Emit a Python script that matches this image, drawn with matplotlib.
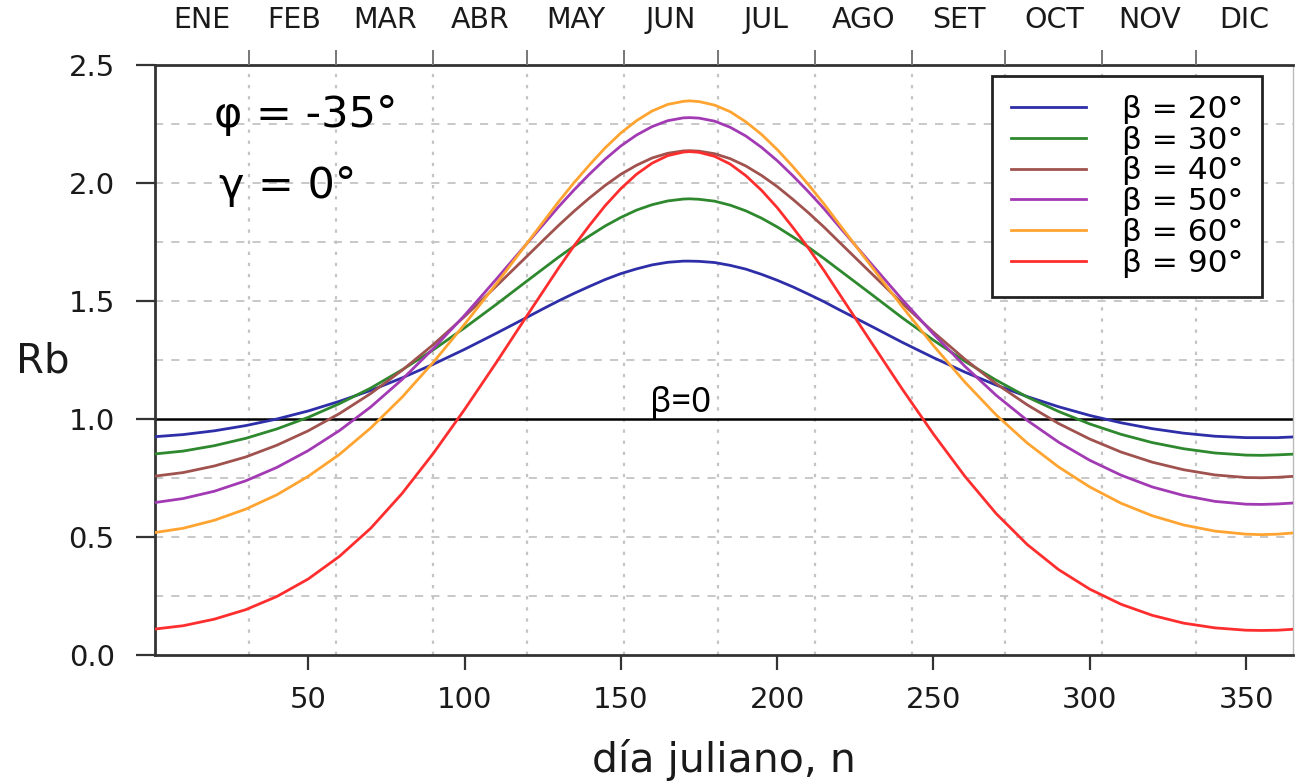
import matplotlib as mpl
mpl.use('Agg')
import matplotlib.pyplot as plt
from matplotlib.ticker import FixedLocator, FormatStrFormatter

plt.rcParams['font.family'] = ['DejaVu Sans']

# día juliano muestreado
days = [1, 10, 20, 30, 40, 50, 60, 70, 80, 90, 100, 110, 120, 125, 130, 135, 140,
        145, 150, 155, 160, 165, 170, 172, 175, 180, 185, 190, 195, 200, 205, 210,
        215, 220, 230, 240, 250, 260, 270, 280, 290, 300, 310, 320, 330, 340, 350,
        355, 360, 365]

rb_20 = [0.925, 0.934, 0.950, 0.972, 1.000, 1.034, 1.075, 1.121, 1.174, 1.232,
         1.295, 1.362, 1.431, 1.466, 1.500, 1.532, 1.562, 1.591, 1.616, 1.636,
         1.653, 1.664, 1.669, 1.669, 1.668, 1.663, 1.651, 1.635, 1.613, 1.588,
         1.560, 1.529, 1.497, 1.462, 1.394, 1.325, 1.260, 1.199, 1.144, 1.095,
         1.052, 1.015, 0.984, 0.959, 0.940, 0.927, 0.921, 0.921, 0.921, 0.924]
rb_30 = [0.852, 0.864, 0.887, 0.918, 0.958, 1.007, 1.065, 1.131, 1.208, 1.293,
         1.386, 1.484, 1.585, 1.635, 1.685, 1.732, 1.776, 1.818, 1.854, 1.885,
         1.908, 1.924, 1.932, 1.933, 1.931, 1.923, 1.906, 1.882, 1.851, 1.814,
         1.772, 1.728, 1.680, 1.630, 1.530, 1.429, 1.334, 1.245, 1.165, 1.093,
         1.032, 0.979, 0.935, 0.900, 0.874, 0.856, 0.847, 0.846, 0.848, 0.851]
rb_40 = [0.758, 0.773, 0.801, 0.839, 0.889, 0.950, 1.023, 1.108, 1.206, 1.315,
         1.434, 1.561, 1.690, 1.755, 1.819, 1.880, 1.937, 1.990, 2.037, 2.075,
         2.106, 2.126, 2.136, 2.137, 2.135, 2.124, 2.103, 2.072, 2.032, 1.985,
         1.931, 1.874, 1.813, 1.748, 1.619, 1.490, 1.368, 1.254, 1.150, 1.060,
         0.981, 0.915, 0.860, 0.817, 0.785, 0.763, 0.752, 0.751, 0.753, 0.757]
rb_50 = [0.646, 0.663, 0.694, 0.738, 0.795, 0.866, 0.951, 1.051, 1.167, 1.298,
         1.439, 1.590, 1.744, 1.821, 1.898, 1.970, 2.038, 2.101, 2.157, 2.203,
         2.239, 2.264, 2.276, 2.277, 2.275, 2.262, 2.236, 2.199, 2.151, 2.095,
         2.031, 1.963, 1.891, 1.813, 1.659, 1.506, 1.360, 1.224, 1.101, 0.994,
         0.902, 0.825, 0.762, 0.712, 0.676, 0.651, 0.639, 0.638, 0.640, 0.644]
rb_60 = [0.519, 0.537, 0.571, 0.618, 0.679, 0.757, 0.850, 0.962, 1.092, 1.240,
         1.401, 1.570, 1.745, 1.832, 1.919, 2.001, 2.077, 2.149, 2.212, 2.264,
         2.305, 2.333, 2.346, 2.348, 2.345, 2.330, 2.302, 2.259, 2.206, 2.142,
         2.070, 1.993, 1.911, 1.823, 1.649, 1.476, 1.311, 1.157, 1.018, 0.898,
         0.797, 0.712, 0.643, 0.590, 0.551, 0.525, 0.512, 0.510, 0.512, 0.517]
rb_90 = [0.110, 0.124, 0.152, 0.192, 0.248, 0.322, 0.418, 0.537, 0.684, 0.854,
         1.040, 1.236, 1.438, 1.538, 1.638, 1.733, 1.821, 1.904, 1.976, 2.037,
         2.084, 2.116, 2.131, 2.133, 2.130, 2.113, 2.080, 2.031, 1.969, 1.896,
         1.812, 1.724, 1.629, 1.528, 1.327, 1.127, 0.936, 0.758, 0.600, 0.468,
         0.362, 0.279, 0.215, 0.168, 0.135, 0.115, 0.105, 0.104, 0.105, 0.109]

series = [rb_20, rb_30, rb_40, rb_50, rb_60, rb_90]
betas = ['20', '30', '40', '50', '60', '90']
colors = ['#2e2ea8', '#2e882e', '#a0524e', '#a23ab4', '#ffa430', '#ff2e2e']

months = ['ENE', 'FEB', 'MAR', 'ABR', 'MAY', 'JUN', 'JUL', 'AGO', 'SET', 'OCT', 'NOV', 'DIC']
month_mid = [16, 45.5, 74.5, 105, 135.5, 166, 196.5, 227.5, 258, 288.5, 319, 349.5]
month_end = [31, 59, 90, 120, 151, 181, 212, 243, 273, 304, 334]

W, H = 1295, 781
fig = plt.figure(figsize=(W / 100, H / 100), dpi=100)
ax = fig.add_axes([155 / W, 1 - 655 / H, (1293 - 155) / W, (655 - 65) / H])

ax.set_xlim(1, 365)
ax.set_ylim(0, 2.5)

# rejilla: punteada vertical (meses), discontinua horizontal (cada 0.25)
for d in month_end:
    ax.axvline(d, color='#c4c4c4', lw=1.6, ls=(0, (1.5, 3.5)), zorder=0)
for v in [0.25, 0.5, 0.75, 1.25, 1.5, 1.75, 2.0, 2.25]:
    ax.axhline(v, color='#c4c4c4', lw=1.3, ls=(0, (4.5, 4.5)), zorder=0)

ax.axhline(1.0, color='black', lw=1.8, zorder=2)

for vals, b, c in zip(series, betas, colors):
    ax.plot(days, vals, color=c, lw=2.0, label='β = ' + b + '°', zorder=3)

ax.text(169, 1.028, 'β=0', fontsize=25, family=['Noto Sans', 'DejaVu Sans'],
        ha='center', va='baseline', zorder=4)

ax.text(0.052, 0.895, 'φ = -35°', transform=ax.transAxes,
        fontsize=31, va='baseline', ha='left')
ax.text(0.056, 0.775, 'γ = 0°', transform=ax.transAxes,
        fontsize=31, va='baseline', ha='left')

ax.xaxis.set_major_locator(FixedLocator([50, 100, 150, 200, 250, 300, 350]))
ax.yaxis.set_major_locator(FixedLocator([0, 0.5, 1.0, 1.5, 2.0, 2.5]))
ax.yaxis.set_major_formatter(FormatStrFormatter('%.1f'))
ax.tick_params(axis='x', which='major', direction='out', length=11, width=1.6,
               labelsize=21, pad=11, colors='#333333', labelcolor='#1a1a1a')
ax.tick_params(axis='y', which='major', direction='out', length=14, width=1.6,
               labelsize=21, pad=15, colors='#333333', labelcolor='#1a1a1a')

for s in ['left', 'bottom', 'top']:
    ax.spines[s].set_linewidth(2.0)
    ax.spines[s].set_color('#333333')
ax.spines['right'].set_linewidth(1.0)
ax.spines['right'].set_color('#bbbbbb')

ax.set_xlabel('día juliano, n', fontsize=29.5, color='#1a1a1a')
ax.xaxis.label.set_va('baseline')
ax.xaxis.set_label_coords(0.5, -0.198)
ax.set_ylabel('Rb', fontsize=29, rotation=0, color='#1a1a1a', va='baseline', ha='center')
ax.yaxis.set_label_coords(-0.099, 0.478)

# eje superior con meses
top = ax.twiny()
top.set_xlim(ax.get_xlim())
top.set_xticks(month_end)
top.set_xticklabels([])
top.set_xticks(month_mid, minor=True)
top.set_xticklabels(months, minor=True)
top.tick_params(axis='x', which='major', direction='out', length=11, width=1.4,
                colors='#777777')
top.tick_params(axis='x', which='minor', length=0, pad=22, labelsize=20.5,
                labelcolor='#1a1a1a')
for s in top.spines.values():
    s.set_visible(False)

leg = ax.legend(loc='upper right', bbox_to_anchor=(0.9728, 0.9814), borderaxespad=0,
                fontsize=22.5, frameon=True, fancybox=False, edgecolor='#222222',
                framealpha=1, handlelength=2.4, handletextpad=1.15,
                labelspacing=0.06, borderpad=0.6)
leg.get_frame().set_linewidth(2.0)
leg.set_zorder(5)

fig.savefig('out.png', dpi=100)
